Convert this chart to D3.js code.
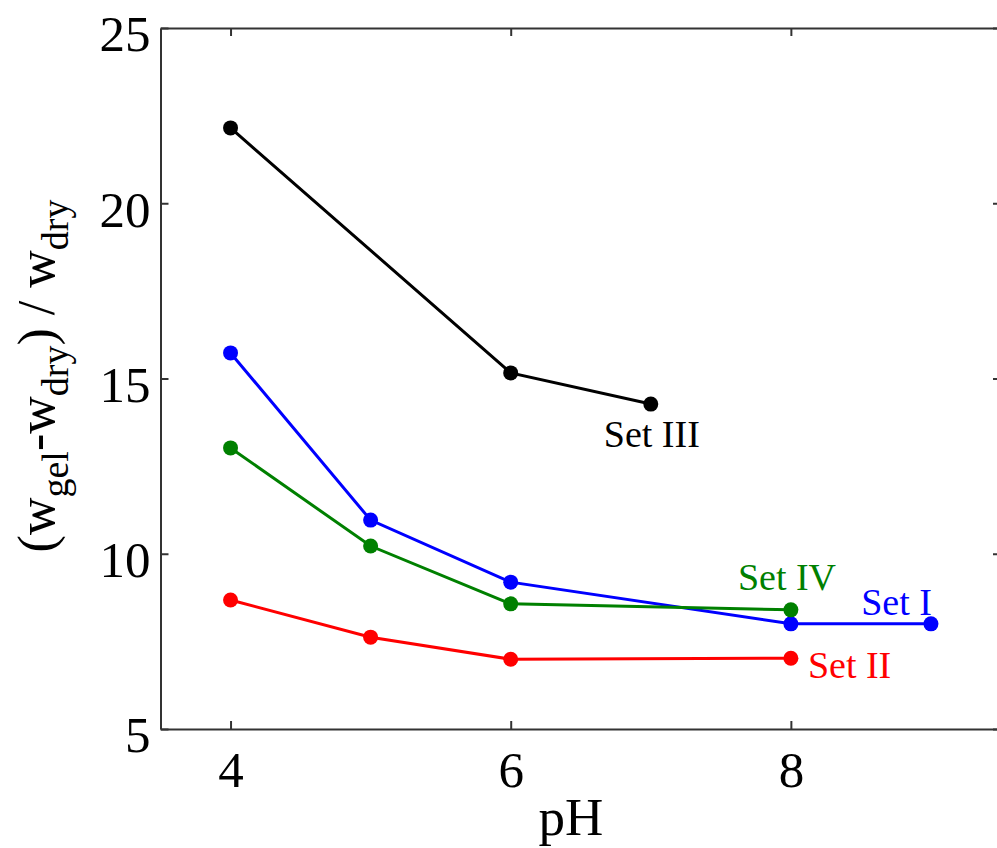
<!DOCTYPE html>
<html>
<head>
<meta charset="utf-8">
<script src="https://cdn.jsdelivr.net/npm/d3@7"></script>
<style>
  html, body { margin: 0; padding: 0; background: #fff; }
  svg { display: block; }
  text { font-family: "Liberation Serif", "DejaVu Serif", serif; }
</style>
</head>
<body>
<svg id="chart" width="997" height="848"></svg>
<script>
// ---- data ----
const setIpH = [4, 5, 6, 8, 9];
const setIValues = [15.73, 10.96, 9.19, 8.0, 8.0];
const setIIpH = [4, 5, 6, 8];
const setIIValues = [8.68, 7.62, 6.99, 7.02];
const setIIIpH = [4, 6, 7];
const setIIIValues = [22.15, 15.16, 14.27];
const setIVpH = [4, 5, 6, 8];
const setIVValues = [13.02, 10.22, 8.57, 8.40];
const seriesNames = ["Set I", "Set II", "Set III", "Set IV"];
const xTicks = [4, 6, 8];
const yTicks = [5, 10, 15, 20, 25];

// ---- styling / layout (not data) ----
const colors = { "Set I": "#0000ff", "Set II": "#ff0000", "Set III": "#000000", "Set IV": "#008000" };
const labelPlacement = {
  "Set I":   { dx: 1,   dy: -9,  anchor: "end" },
  "Set II":  { dx: 17,  dy: 20,  anchor: "start" },
  "Set III": { dx: -47, dy: 43,  anchor: "start" },
  "Set IV":  { dx: -53, dy: -20, anchor: "start" }
};

const series = [
  { name: "Set I",   x: setIpH,   y: setIValues },
  { name: "Set II",  x: setIIpH,  y: setIIValues },
  { name: "Set III", x: setIIIpH, y: setIIIValues },
  { name: "Set IV",  x: setIVpH,  y: setIVValues }
].map(s => ({ ...s, pts: s.x.map((v, i) => ({ x: v, y: s.y[i] })) }));

const svg = d3.select("#chart");
const mLeft = 160.5, mRight = 1001, mTop = 28, mBottom = 729;

const x = d3.scaleLinear().domain([3.5, 9.5]).range([mLeft, mRight]);
const y = d3.scaleLinear().domain([5, 25]).range([mBottom, mTop]);

const frameColor = "#333";
const tickLen = 8;

const axisStyle = g => {
  g.select(".domain").attr("stroke", frameColor).attr("stroke-width", 2);
  g.selectAll(".tick line").attr("stroke", frameColor).attr("stroke-width", 2);
};

const xBottom = svg.append("g").attr("transform", `translate(0,${mBottom})`)
  .call(d3.axisBottom(x).tickValues(xTicks).tickSizeInner(-tickLen).tickSizeOuter(0).tickPadding(0).tickFormat(d3.format("d")));
axisStyle(xBottom);
xBottom.selectAll(".tick text")
  .attr("y", 58).attr("dy", 0)
  .attr("font-family", "Liberation Serif").attr("font-size", 51).attr("fill", "#000");

const xTopAxis = svg.append("g").attr("transform", `translate(0,${mTop})`)
  .call(d3.axisTop(x).tickValues(xTicks).tickSizeInner(-tickLen).tickSizeOuter(0).tickFormat(""));
axisStyle(xTopAxis);

const yLeft = svg.append("g").attr("transform", `translate(${mLeft},0)`)
  .call(d3.axisLeft(y).tickValues(yTicks).tickSizeInner(-tickLen).tickSizeOuter(0).tickPadding(0).tickFormat(d3.format("d")));
axisStyle(yLeft);
yLeft.selectAll(".tick text")
  .attr("x", -10).attr("dy", "0.45em")
  .attr("font-family", "Liberation Serif").attr("font-size", 51).attr("fill", "#000");

const yRight = svg.append("g").attr("transform", `translate(${mRight},0)`)
  .call(d3.axisRight(y).tickValues(yTicks).tickSizeInner(-tickLen).tickSizeOuter(0).tickFormat(""));
axisStyle(yRight);

const line = d3.line().x(d => x(d.x)).y(d => y(d.y));
const gSeries = svg.append("g");
series.forEach(s => {
  gSeries.append("path")
    .datum(s.pts)
    .attr("d", line)
    .attr("fill", "none")
    .attr("stroke", colors[s.name])
    .attr("stroke-width", 3);
  gSeries.selectAll(null)
    .data(s.pts)
    .enter().append("circle")
    .attr("cx", d => x(d.x))
    .attr("cy", d => y(d.y))
    .attr("r", 7.5)
    .attr("fill", colors[s.name]);
});

series.forEach(s => {
  const last = s.pts[s.pts.length - 1];
  const p = labelPlacement[s.name];
  svg.append("text")
    .attr("x", x(last.x) + p.dx)
    .attr("y", y(last.y) + p.dy)
    .attr("text-anchor", p.anchor)
    .attr("font-size", 38)
    .attr("fill", colors[s.name])
    .text(s.name);
});

svg.append("text")
  .attr("x", 571).attr("y", 835)
  .attr("text-anchor", "middle")
  .attr("font-size", 53)
  .attr("fill", "#000")
  .text("pH");

const yt = svg.append("text")
  .attr("transform", "translate(54,376) rotate(-90)")
  .attr("text-anchor", "middle")
  .attr("font-size", 52)
  .attr("fill", "#000");
yt.append("tspan").text("(w");
yt.append("tspan").attr("font-size", 38).attr("dy", 14).text("gel");
yt.append("tspan").attr("dy", -14).text("-w");
yt.append("tspan").attr("font-size", 38).attr("dy", 14).text("dry");
yt.append("tspan").attr("dy", -14).text(") / w");
yt.append("tspan").attr("font-size", 38).attr("dy", 14).text("dry");
</script>
</body>
</html>
